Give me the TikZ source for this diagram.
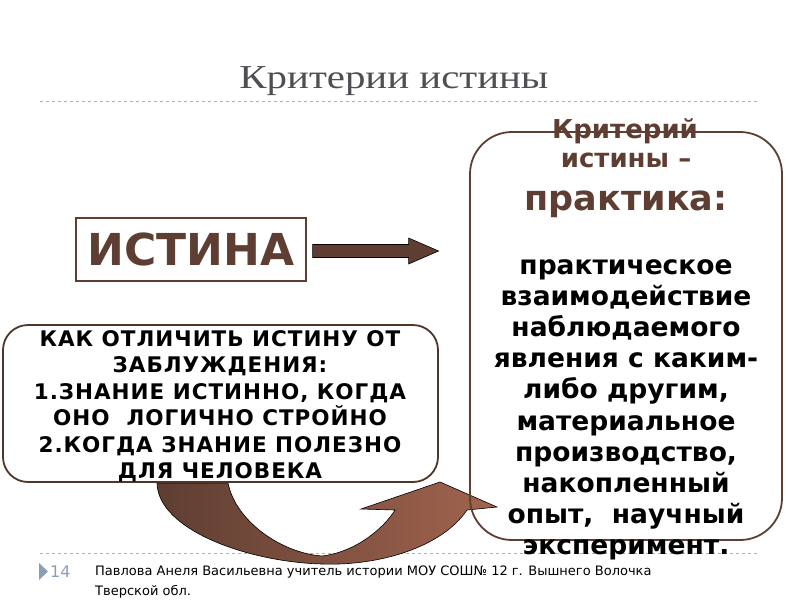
\documentclass[tikz,border=0pt]{standalone}
\usepackage{fontspec}
\setmainfont{DejaVu Sans}
\newfontfamily\titlefont[FakeStretch=1.22]{Liberation Serif}
\newfontfamily\spacedfont[LetterSpace=4.5]{DejaVu Sans}
\usetikzlibrary{calc}
\definecolor{earth}{RGB}{94,62,50}
\definecolor{clay}{RGB}{162,100,78}
\definecolor{slate}{RGB}{78,78,84}
\definecolor{pale}{RGB}{175,175,175}
\definecolor{steel}{RGB}{140,158,180}

\tikzset{
    title text/.style={font=\titlefont\fontsize{33.5}{40}\selectfont, text=slate, anchor=base},
    rule line/.style={draw=pale, dashed, line width=0.8pt},
    truth box/.style={draw=earth, line width=1.2pt, minimum width=230, minimum height=63,
        font=\fontsize{44}{50}\selectfont\bfseries, text=earth},
    talk box/.style={draw=earth!85!black, line width=1.8pt, rounded corners=25,
        fill=white, minimum width=435, minimum height=157},
    talk text/.style={align=center, font=\spacedfont\fontsize{21.5}{26.4}\selectfont\bfseries},
    crit box/.style={draw=earth, line width=1.8pt, rounded corners=42,
        minimum width=312, minimum height=408},
    crit head/.style={text=earth, anchor=base, font=\fontsize{26}{30}\selectfont\bfseries},
    crit body/.style={anchor=base, font=\fontsize{26.5}{31}\selectfont\bfseries},
    foot text/.style={font=\fontsize{13}{21}\selectfont, anchor=base west}
}

\begin{document}
\begin{tikzpicture}[x=1pt,y=-1pt]
    \useasboundingbox (0,0) rectangle (800,600);
    % Title and rules
    \node (title) [title text] at (394,88) {Критерии истины};
    \draw[rule line] (40,101) -- (760,101);
    \draw[rule line] (40,553) -- (760,553);
    % Curved arrow back to the criterion
    \shade[left color=earth, right color=clay, draw=black, line width=0.6pt]
        (157,483) -- (228,483)
        .. controls (236,522) and (282,553) .. (322,556)
        .. controls (356,552) and (384,528) .. (395,510)
        -- (361,509) -- (440,482) -- (497,507) -- (467,510)
        .. controls (442,547) and (380,566) .. (322,564)
        .. controls (248,562) and (158,530) .. (157,483) -- cycle;
    % Left box
    \node (talk) [talk box] at (220.5,403.5) {};
    \node (talktext) [talk text, anchor=north] at (220,327)
        {КАК ОТЛИЧИТЬ ИСТИНУ ОТ\\ ЗАБЛУЖДЕНИЯ:\\ 1.ЗНАНИЕ ИСТИННО, КОГДА\\
         ОНО\ \ ЛОГИЧНО СТРОЙНО\\ 2.КОГДА ЗНАНИЕ ПОЛЕЗНО\\ ДЛЯ ЧЕЛОВЕКА};
    % Truth and the arrow
    \node (truth) [truth box] at (191,249.5) {ИСТИНА};
    \filldraw[fill=earth, draw=black, line width=0.6pt]
        ($(truth.east)+(6,-5)$) -- ++(96,0) -- ++(0,-6.5) -- ++(30,13)
        -- ++(-30,13) -- ++(0,-6.5) -- ++(-96,0) -- cycle;
    % Right box
    \node (crit) [crit box] at (626,336) {};
    \node (head1) [crit head] at (625,138) {Критерий};
    \node (head2) [crit head] at (626,167) {истины –};
    \node (head3) [crit head, font=\fontsize{35}{40}\selectfont\bfseries] at (626,210) {практика:};
    \foreach \txt [count=\i] in {практическое, взаимодействие, наблюдаемого,
        явления с каким-, {либо другим,}, материальное, {производство,},
        накопленный, {опыт,\ \ научный}, эксперимент.}
        \node (body\i) [crit body] at (626,{274+31.2*(\i-1)}) {\txt};
    % Footer
    \fill[steel] (39,563) -- (48,571.5) -- (39,580) -- cycle;
    \node (page) [anchor=base west, text=steel, font=\fontsize{16}{18}\selectfont,
        inner sep=0] at (50,577) {14};
    \node (author) [foot text, inner sep=0] at (95,575)
        {Павлова Анеля Васильевна учитель истории МОУ СОШ№ 12 г. Вышнего Волочка};
    \node (region) [foot text, inner sep=0] at (95,595) {Тверской обл.};
\end{tikzpicture}
\end{document}
